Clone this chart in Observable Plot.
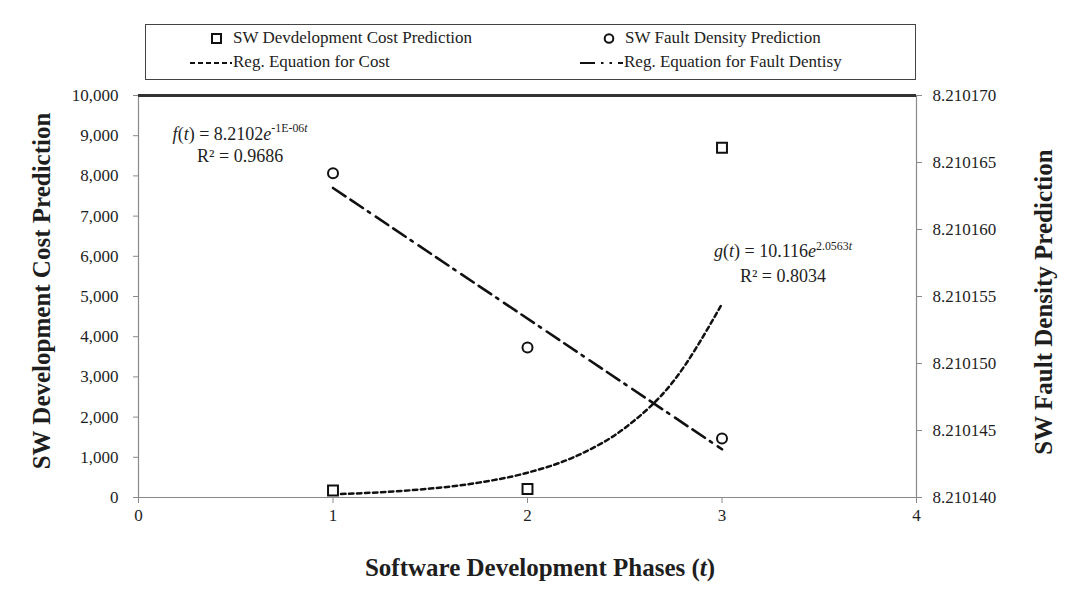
<!DOCTYPE html>
<html>
<head>
<meta charset="utf-8">
<script src="https://cdn.jsdelivr.net/npm/d3@7"></script>
<script src="https://cdn.jsdelivr.net/npm/@observablehq/plot@0.6"></script>
<style>
  html, body { margin: 0; padding: 0; background: #fff; }
  body { width: 1089px; height: 610px; overflow: hidden; font-family: "Liberation Serif", "Times New Roman", serif; color: #222; }
  #legend { position: relative; width: 1089px; height: 90px; }
  #legend .box { position: absolute; left: 145px; top: 24px; width: 769px; height: 54px; border: 1.5px solid #444; }
  #legend .lbl { position: absolute; font-size: 17px; line-height: 20px; white-space: nowrap; }
  #legend svg { position: absolute; left: 0; top: 0; }
  #chart svg { display: block; }
</style>
</head>
<body>
<div id="legend"></div>
<div id="chart"></div>
<script>
// ---- data ----
const phases = [1, 2, 3];
const costPrediction = [175, 210, 8700];
const faultPrediction = [8.2101642, 8.2101512, 8.2101444];
const costFitT = [1, 1.25, 1.5, 1.75, 2, 2.25, 2.5, 2.75, 3];
const costFit = [79, 133, 221, 370, 617, 1030, 1728, 2890, 4816];
const faultFitT = [1, 3];
const faultFit = [8.2101631, 8.2101436];
const xTicks = [0, 1, 2, 3, 4];
const costTicks = [0, 1000, 2000, 3000, 4000, 5000, 6000, 7000, 8000, 9000, 10000];
const faultTicks = [8.210140, 8.210145, 8.210150, 8.210155, 8.210160, 8.210165, 8.210170];
const legendLabels = ["SW Devdelopment Cost Prediction", "SW Fault Density Prediction", "Reg. Equation for Cost", "Reg. Equation for Fault Dentisy"];
const titles = {y: "SW Development Cost Prediction", y2: "SW Fault Density Prediction", x: "Software Development Phases"};

// secondary axis mapping (right axis domain onto the left axis domain)
const faultMin = faultTicks[0], faultMax = faultTicks[faultTicks.length - 1];
const costMax = costTicks[costTicks.length - 1];
const toCost = v => (v - faultMin) / (faultMax - faultMin) * costMax;
const fromCost = c => faultMin + c / costMax * (faultMax - faultMin);

const costData = phases.map((t, i) => ({t, v: costPrediction[i]}));
const faultData = phases.map((t, i) => ({t, v: toCost(faultPrediction[i])}));
const costFitData = costFitT.map((t, i) => ({t, v: costFit[i]}));
const faultFitData = faultFitT.map((t, i) => ({t, v: toCost(faultFit[i])}));

const FONT = "'Liberation Serif', 'Times New Roman', serif";
const INK = "#1e1e1e";
const COST_DASH = "4.5,3.5";
const FAULT_DASH = "15,6,15,6,2.5,7";

// ---- legend (HTML above the SVG) ----
const legend = document.getElementById("legend");
legend.innerHTML = `
<div class="box"></div>
<svg width="1089" height="90">
  <rect x="212" y="34" width="9" height="9" fill="none" stroke="#111" stroke-width="2"/>
  <circle cx="609" cy="38.5" r="4.3" fill="none" stroke="#111" stroke-width="2"/>
  <line x1="190" y1="63" x2="232" y2="63" stroke="#111" stroke-width="2.2" stroke-dasharray="5,3"/>
  <line x1="580" y1="63" x2="623" y2="63" stroke="#111" stroke-width="2.2" stroke-dasharray="15,6,2.5,6,2.5,6"/>
</svg>
<div class="lbl" style="left:233px;top:28px"></div>
<div class="lbl" style="left:625px;top:28px"></div>
<div class="lbl" style="left:233px;top:52px"></div>
<div class="lbl" style="left:624px;top:52px"></div>`;
legend.querySelectorAll(".lbl").forEach((el, i) => { el.textContent = legendLabels[i]; });

// ---- helper for rich SVG text ----
function richText(g, x, y, parts, size, anchor, weight) {
  const t = g.append("text").attr("x", x).attr("y", y)
    .attr("text-anchor", anchor || "middle")
    .attr("font-size", size).attr("fill", INK);
  if (weight) t.attr("font-weight", weight);
  let raised = false;
  for (const p of parts) {
    const s = t.append("tspan").text(p.s);
    if (p.i) s.attr("font-style", "italic");
    if (p.sup && !raised) { s.attr("dy", -size * 0.42); raised = true; }
    if (p.sup) s.attr("font-size", size * 0.66);
  }
  return t;
}

// annotation anchor points in data space (t, cost)
const fLabelAt = {t: 0.525, v: 8880};
const fR2At = {t: 0.525, v: 8330};
const gLabelAt = {t: 3.316, v: 5960};
const gR2At = {t: 3.316, v: 5340};

function annotations(index, scales, values, dimensions) {
  const g = d3.create("svg:g").attr("font-family", FONT);
  const X = scales.x, Y = scales.y;
  richText(g, X(fLabelAt.t), Y(fLabelAt.v), [
    {s: "f", i: true}, {s: "("}, {s: "t", i: true}, {s: ") = 8.2102"}, {s: "e", i: true},
    {s: "-1E-06", sup: true}, {s: "t", i: true, sup: true}], 18);
  richText(g, X(fR2At.t), Y(fR2At.v), [{s: "R² = 0.9686"}], 18);
  richText(g, X(gLabelAt.t), Y(gLabelAt.v), [
    {s: "g", i: true}, {s: "("}, {s: "t", i: true}, {s: ") = 10.116"}, {s: "e", i: true},
    {s: "2.0563", sup: true}, {s: "t", i: true, sup: true}], 18);
  richText(g, X(gR2At.t), Y(gR2At.v), [{s: "R² = 0.8034"}], 18);

  const {width, height, marginLeft, marginRight, marginTop, marginBottom} = dimensions;
  const cx = (marginLeft + width - marginRight) / 2;
  const cy = (marginTop + height - marginBottom) / 2;
  const bottom = height - marginBottom;
  // x title
  richText(g, cx + 13, bottom + 79, [{s: titles.x + " ("}, {s: "t", i: true}, {s: ")"}], 25, "middle", "bold");
  // left y title
  richText(g, 0, 0, [{s: titles.y}], 25, "middle", "bold")
    .attr("transform", `translate(${marginLeft - 88},${cy - 5}) rotate(-90)`);
  // right y title
  richText(g, 0, 0, [{s: titles.y2}], 25, "middle", "bold")
    .attr("transform", `translate(${width - marginRight + 136},${cy + 6}) rotate(-90)`);
  return g.node();
}

const chart = Plot.plot({
  width: 1089,
  height: 520,
  marginLeft: 138,
  marginRight: 173,
  marginTop: 5,
  marginBottom: 113,
  style: {fontFamily: FONT, fontSize: "17px", color: INK, background: "#fff", overflow: "visible"},
  x: {domain: [0, 4]},
  y: {domain: [0, costMax]},
  marks: [
    Plot.ruleX([0, 4], {stroke: "#8a8a8a", strokeWidth: 1.2}),
    Plot.ruleY([0], {stroke: "#8a8a8a", strokeWidth: 1.2}),
    Plot.ruleY([costMax], {stroke: "#333", strokeWidth: 3}),
    Plot.axisX(xTicks, {tickSize: 6, tickPadding: 5, stroke: "#8a8a8a", fill: INK, label: null, tickFormat: d => String(d)}),
    Plot.axisY(costTicks, {anchor: "left", tickSize: 5, tickPadding: 15, stroke: "#8a8a8a", fill: INK, label: null, tickFormat: d3.format(",")}),
    Plot.axisY(faultTicks.map(toCost), {anchor: "right", tickSize: 5, tickPadding: 11, stroke: "#8a8a8a", fill: INK, label: null, tickFormat: d => fromCost(d).toFixed(6)}),
    Plot.line(costFitData, {x: "t", y: "v", stroke: "#111", strokeWidth: 2.5, strokeDasharray: COST_DASH, curve: "monotone-x"}),
    Plot.line(faultFitData, {x: "t", y: "v", stroke: "#111", strokeWidth: 2.6, strokeDasharray: FAULT_DASH}),
    Plot.dot(costData, {x: "t", y: "v", symbol: "square", r: 5.6, stroke: "#111", strokeWidth: 2, fill: "#fff"}),
    Plot.dot(faultData, {x: "t", y: "v", symbol: "circle", r: 5, stroke: "#111", strokeWidth: 2, fill: "#fff"}),
    annotations
  ]
});
document.getElementById("chart").appendChild(chart);
</script>
</body>
</html>
